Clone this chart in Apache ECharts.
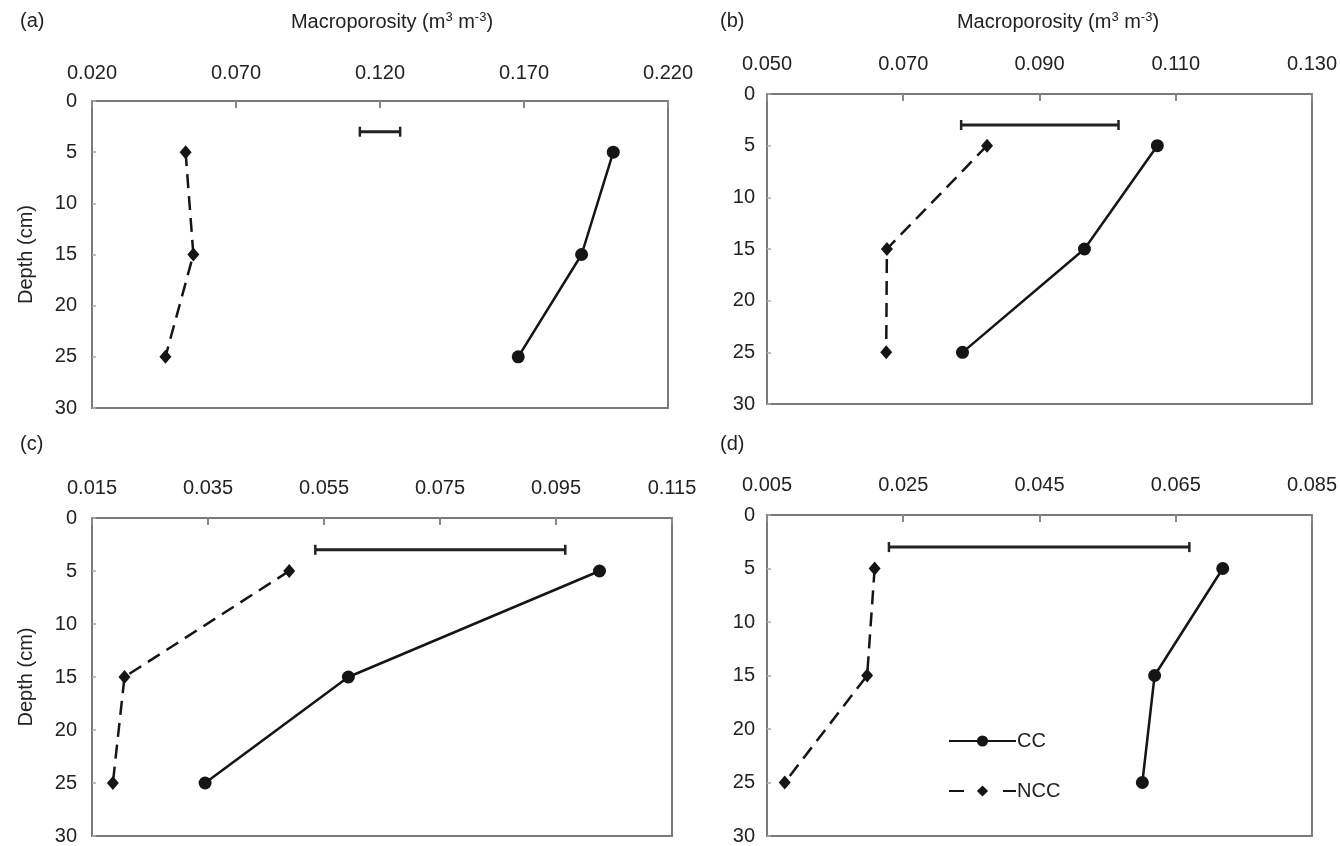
<!DOCTYPE html>
<html><head><meta charset="utf-8">
<script src="https://cdn.jsdelivr.net/npm/echarts@6/dist/echarts.min.js"></script>
<style>html,body{margin:0;padding:0;background:#fff}#c{width:1340px;height:846px}</style>
</head><body><div id="c"></div>
<script>
// ---- data ----
var depths = [5, 15, 25];
var errDepth = 3;
var panelLabels = ['(a)', '(b)', '(c)', '(d)'];
var xMin = [0.020, 0.050, 0.015, 0.005];
var xMax = [0.220, 0.130, 0.115, 0.085];
var xStep = [0.05, 0.02, 0.02, 0.02];
var ccA = [0.201, 0.190, 0.168];
var nccA = [0.0525, 0.0552, 0.0455];
var errA = [0.113, 0.127];
var ccB = [0.1073, 0.0966, 0.0787];
var nccB = [0.0823, 0.0676, 0.0675];
var errB = [0.0785, 0.1016];
var ccC = [0.1025, 0.0592, 0.0345];
var nccC = [0.0490, 0.0206, 0.0186];
var errC = [0.0535, 0.0966];
var ccD = [0.0719, 0.0619, 0.0601];
var nccD = [0.0208, 0.0197, 0.0076];
var errD = [0.0229, 0.0670];
var ccAll = [ccA, ccB, ccC, ccD];
var nccAll = [nccA, nccB, nccC, nccD];
var errAll = [errA, errB, errC, errD];

// ---- layout ----
var FONT = "'Liberation Sans', Arial, sans-serif";
var TXT = '#222';
var grids = [
  {left: 92, top: 101, width: 576, height: 307},
  {left: 767, top: 94, width: 547, height: 310},
  {left: 92, top: 518, width: 580, height: 321},
  {left: 767, top: 515, width: 553, height: 327}
];
var labelMargin = [18, 20, 20, 20];

var option = {
  backgroundColor: '#fff',
  animation: false,
  textStyle: {fontFamily: FONT, color: TXT},
  grid: grids.map(function (g) {
    return Object.assign({show: true, borderColor: '#7a7a7a', borderWidth: 2, backgroundColor: '#fff'}, g);
  }),
  xAxis: [], yAxis: [], series: [],
  legend: {
    data: [
      {name: 'CC'},
      {name: 'NCC', lineStyle: {type: [15, 39]}}
    ],
    orient: 'vertical', left: 943, top: 726,
    itemWidth: 67, itemHeight: 14, itemGap: 30,
    textStyle: {fontFamily: FONT, fontSize: 20, color: TXT, padding: [0, 0, 0, -4]},
    selectedMode: false
  },
  graphic: []
};

for (var i = 0; i < 4; i++) {
  option.xAxis.push({
    gridIndex: i, type: 'value', position: 'top',
    min: xMin[i], max: xMax[i], interval: xStep[i],
    axisLine: {show: false},
    axisTick: {show: true, inside: true, length: 7, lineStyle: {color: '#888', width: 2}},
    splitLine: {show: false},
    axisLabel: {margin: labelMargin[i], fontSize: 20, color: TXT, fontFamily: FONT,
      formatter: function (v) { return v.toFixed(3); }}
  });
  option.yAxis.push({
    gridIndex: i, type: 'value', inverse: true, min: 0, max: 30, interval: 5,
    axisLine: {show: false},
    axisTick: {show: true, inside: true, length: 4, lineStyle: {color: '#aaa', width: 1.5}},
    splitLine: {show: false},
    axisLabel: {margin: (i % 2 === 0) ? 15 : 12, fontSize: 20, color: TXT, fontFamily: FONT},
    name: (i % 2 === 0) ? 'Depth (cm)' : '',
    nameLocation: 'middle', nameRotate: 90, nameGap: 56,
    nameTextStyle: {fontSize: 20, color: TXT, fontFamily: FONT}
  });
  option.series.push({
    name: 'CC', type: 'line', xAxisIndex: i, yAxisIndex: i,
    data: depths.map(function (d, k) { return [ccAll[i][k], d]; }),
    symbol: 'circle', symbolSize: 13,
    lineStyle: {color: '#151515', width: 2.5},
    itemStyle: {color: '#151515'}
  });
  option.series.push({
    name: 'NCC', type: 'line', xAxisIndex: i, yAxisIndex: i,
    data: depths.map(function (d, k) { return [nccAll[i][k], d]; }),
    symbol: 'diamond', symbolSize: [12, 14],
    lineStyle: {color: '#151515', width: 2.5, type: [14, 8]},
    itemStyle: {color: '#151515'}
  });
  option.series.push({
    name: 'LSD', type: 'line', xAxisIndex: i, yAxisIndex: i,
    data: errAll[i].map(function (x) { return [x, errDepth]; }),
    symbol: 'rect', symbolSize: [2.5, 10],
    lineStyle: {color: '#222', width: 3},
    itemStyle: {color: '#222'}
  });
}

// panel letters and top axis titles
var letterPos = [[20, 22], [720, 22], [20, 445], [720, 445]];
letterPos.forEach(function (p, i) {
  option.graphic.push({type: 'text', left: p[0], top: p[1] - 11,
    style: {text: panelLabels[i], font: '20px ' + FONT, fill: TXT}});
});
var titlePos = [[392, 22], [1058, 22]];
titlePos.forEach(function (p) {
  option.graphic.push({type: 'text', x: p[0], y: p[1],
    style: {
      text: 'Macroporosity (m{s|3} m{s|-3})',
      align: 'center', verticalAlign: 'middle',
      font: '20px ' + FONT, fill: TXT,
      rich: {s: {fontSize: 13, fontFamily: FONT, fill: TXT, padding: [0, 0, 9, 0]}}
    }});
});

var chart = echarts.init(document.getElementById('c'), null, {renderer: 'canvas'});
chart.setOption(option);
</script></body></html>
